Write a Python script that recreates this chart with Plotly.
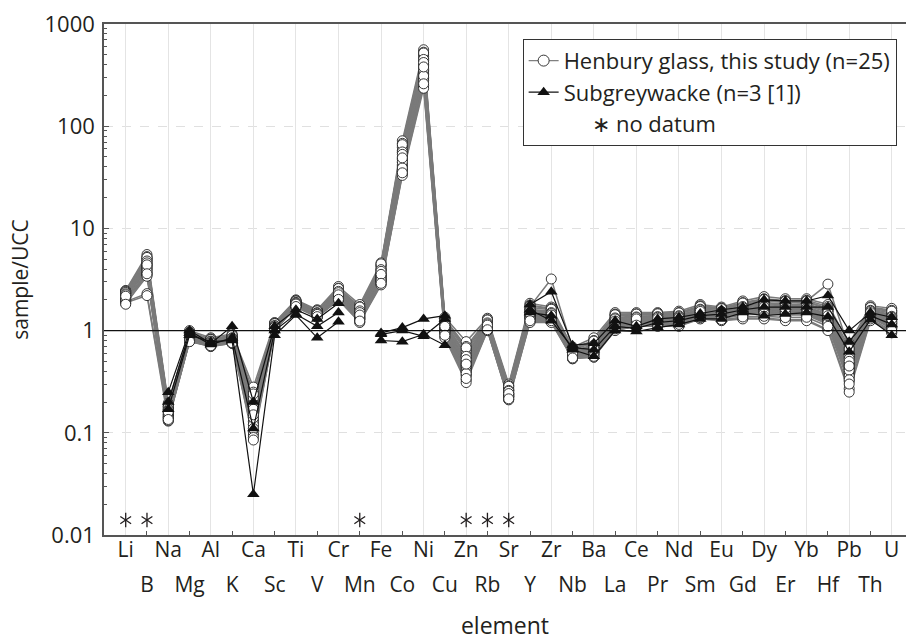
import plotly.graph_objects as go

# Elements in plotting order (normalised to upper continental crust, UCC)
elements = ["Li", "B", "Na", "Mg", "Al", "K", "Ca", "Sc", "Ti", "V", "Cr", "Mn",
            "Fe", "Co", "Ni", "Cu", "Zn", "Rb", "Sr", "Y", "Zr", "Nb", "Ba", "La",
            "Ce", "Pr", "Nd", "Sm", "Eu", "Gd", "Dy", "Er", "Yb", "Hf", "Pb", "Th", "U"]

# Henbury impact glass, 25 analyses: sample/UCC per element
hb_li = [2.47, 2.31, 2.44, 2.38, 2.26, 2.41, 2.19, 2.33, 2.12, 2.36, 2.05, 2.22, 2.29, 1.98, 2.15, 2.08, 1.92, 2.24, 2.01, 1.87, 2.10, 1.95, 1.84, 2.17, 1.81]
hb_b = [5.55, 4.9, 5.3, 5.1, 4.4, 5.0, 4.1, 4.7, 3.9, 5.2, 3.6, 4.3, 4.8, 3.5, 4.5, 4.0, 2.3, 4.6, 3.7, 2.2, 4.2, 3.8, 3.4, 4.4, 3.6]
hb_na = [0.195, 0.17, 0.19, 0.18, 0.16, 0.185, 0.15, 0.175, 0.145, 0.18, 0.14, 0.165, 0.17, 0.135, 0.16, 0.15, 0.14, 0.165, 0.145, 0.13, 0.155, 0.14, 0.132, 0.16, 0.135]
hb_mg = [1.0, 0.9, 0.97, 0.95, 0.87, 0.94, 0.84, 0.92, 0.82, 0.96, 0.8, 0.88, 0.91, 0.79, 0.86, 0.83, 0.81, 0.89, 0.82, 0.78, 0.85, 0.8, 0.79, 0.87, 0.78]
hb_al = [0.85, 0.79, 0.83, 0.82, 0.77, 0.81, 0.75, 0.8, 0.74, 0.82, 0.72, 0.77, 0.79, 0.71, 0.76, 0.74, 0.72, 0.78, 0.73, 0.7, 0.75, 0.72, 0.7, 0.76, 0.71]
hb_k = [0.93, 0.85, 0.9, 0.89, 0.83, 0.88, 0.8, 0.86, 0.79, 0.9, 0.77, 0.83, 0.85, 0.76, 0.82, 0.79, 0.77, 0.84, 0.78, 0.75, 0.81, 0.77, 0.75, 0.82, 0.76]
hb_ca = [0.28, 0.2, 0.25, 0.23, 0.17, 0.22, 0.14, 0.19, 0.13, 0.24, 0.12, 0.16, 0.18, 0.11, 0.15, 0.13, 0.1, 0.17, 0.12, 0.095, 0.14, 0.11, 0.09, 0.15, 0.085]
hb_sc = [1.2, 1.12, 1.18, 1.16, 1.1, 1.15, 1.07, 1.13, 1.05, 1.17, 1.04, 1.09, 1.12, 1.02, 1.08, 1.06, 1.03, 1.11, 1.04, 1.0, 1.07, 1.03, 1.0, 1.08, 1.01]
hb_ti = [2.0, 1.88, 1.96, 1.94, 1.85, 1.92, 1.81, 1.9, 1.79, 1.95, 1.76, 1.84, 1.89, 1.74, 1.83, 1.78, 1.75, 1.86, 1.77, 1.71, 1.8, 1.75, 1.7, 1.82, 1.72]
hb_v = [1.6, 1.5, 1.57, 1.55, 1.47, 1.54, 1.44, 1.51, 1.42, 1.56, 1.4, 1.46, 1.5, 1.38, 1.45, 1.41, 1.39, 1.48, 1.4, 1.36, 1.43, 1.39, 1.35, 1.44, 1.37]
hb_cr = [2.7, 2.4, 2.6, 2.55, 2.3, 2.5, 2.2, 2.45, 2.15, 2.58, 2.1, 2.28, 2.42, 2.05, 2.25, 2.17, 2.08, 2.35, 2.12, 2.0, 2.2, 2.06, 2.0, 2.24, 2.02]
hb_mn = [1.8, 1.55, 1.72, 1.66, 1.48, 1.62, 1.4, 1.58, 1.36, 1.7, 1.32, 1.45, 1.56, 1.28, 1.43, 1.35, 1.3, 1.5, 1.33, 1.22, 1.38, 1.29, 1.2, 1.42, 1.24]
hb_fe = [4.6, 3.9, 4.4, 4.3, 3.7, 4.2, 3.4, 4.0, 3.3, 4.5, 3.1, 3.6, 3.95, 3.0, 3.5, 3.25, 3.05, 3.8, 3.2, 2.85, 3.45, 3.1, 2.8, 3.55, 2.9]
hb_co = [72, 55, 68, 64, 50, 62, 44, 58, 41, 66, 38, 48, 56, 36, 47, 42, 37, 53, 40, 34, 45, 39, 33, 49, 35]
hb_ni = [560, 440, 530, 500, 400, 480, 350, 460, 330, 520, 300, 390, 450, 280, 370, 340, 290, 420, 320, 250, 360, 310, 235, 380, 260]
hb_cu = [1.35, 1.18, 1.3, 1.27, 1.12, 1.25, 1.05, 1.2, 1.02, 1.28, 0.98, 1.1, 1.18, 0.95, 1.08, 1.03, 0.93, 1.15, 1.0, 0.87, 1.06, 0.97, 0.85, 1.1, 0.9]
hb_zn = [0.78, 0.55, 0.7, 0.65, 0.5, 0.62, 0.44, 0.58, 0.42, 0.68, 0.39, 0.48, 0.56, 0.37, 0.46, 0.41, 0.36, 0.52, 0.4, 0.33, 0.45, 0.38, 0.31, 0.47, 0.34]
hb_rb = [1.32, 1.18, 1.28, 1.25, 1.14, 1.22, 1.1, 1.2, 1.08, 1.27, 1.06, 1.12, 1.19, 1.04, 1.11, 1.07, 1.03, 1.16, 1.05, 1.0, 1.09, 1.04, 1.0, 1.13, 1.02]
hb_sr = [0.3, 0.26, 0.29, 0.28, 0.25, 0.27, 0.24, 0.265, 0.235, 0.285, 0.23, 0.245, 0.26, 0.225, 0.24, 0.23, 0.22, 0.255, 0.228, 0.212, 0.238, 0.224, 0.21, 0.242, 0.215]
hb_y = [1.85, 1.6, 1.78, 1.72, 1.52, 1.68, 1.45, 1.62, 1.4, 1.75, 1.36, 1.5, 1.6, 1.32, 1.47, 1.38, 1.3, 1.55, 1.35, 1.22, 1.42, 1.3, 1.2, 1.48, 1.25]
hb_zr = [1.7, 1.5, 1.65, 3.2, 1.45, 1.6, 1.4, 1.55, 1.36, 1.62, 1.32, 1.43, 1.5, 1.3, 1.4, 1.35, 1.27, 1.47, 1.33, 1.22, 1.38, 1.29, 1.2, 1.42, 1.25]
hb_nb = [0.69, 0.62, 0.67, 0.66, 0.6, 0.65, 0.58, 0.63, 0.57, 0.66, 0.56, 0.59, 0.62, 0.55, 0.59, 0.57, 0.55, 0.61, 0.56, 0.53, 0.58, 0.55, 0.53, 0.6, 0.54]
hb_ba = [0.85, 0.72, 0.8, 0.78, 0.68, 0.76, 0.64, 0.73, 0.62, 0.79, 0.6, 0.67, 0.72, 0.58, 0.66, 0.62, 0.58, 0.7, 0.6, 0.55, 0.65, 0.59, 0.55, 0.67, 0.56]
hb_la = [1.5, 1.32, 1.45, 1.42, 1.27, 1.4, 1.2, 1.35, 1.17, 1.43, 1.12, 1.25, 1.33, 1.09, 1.22, 1.15, 1.06, 1.3, 1.13, 1.01, 1.2, 1.1, 1.0, 1.24, 1.04]
hb_ce = [1.5, 1.36, 1.46, 1.44, 1.32, 1.42, 1.27, 1.38, 1.24, 1.45, 1.21, 1.3, 1.36, 1.18, 1.28, 1.23, 1.16, 1.34, 1.2, 1.1, 1.26, 1.19, 1.1, 1.3, 1.13]
hb_pr = [1.5, 1.37, 1.47, 1.44, 1.33, 1.42, 1.28, 1.39, 1.25, 1.46, 1.22, 1.31, 1.37, 1.19, 1.29, 1.24, 1.17, 1.35, 1.21, 1.11, 1.27, 1.2, 1.1, 1.31, 1.14]
hb_nd = [1.55, 1.4, 1.5, 1.47, 1.35, 1.45, 1.3, 1.41, 1.27, 1.49, 1.24, 1.33, 1.4, 1.21, 1.31, 1.26, 1.18, 1.37, 1.23, 1.12, 1.29, 1.21, 1.1, 1.33, 1.15]
hb_sm = [1.8, 1.62, 1.75, 1.71, 1.57, 1.68, 1.5, 1.64, 1.47, 1.72, 1.43, 1.55, 1.62, 1.4, 1.52, 1.46, 1.37, 1.59, 1.42, 1.31, 1.49, 1.4, 1.3, 1.54, 1.34]
hb_eu = [1.7, 1.54, 1.66, 1.62, 1.49, 1.6, 1.43, 1.56, 1.4, 1.64, 1.37, 1.47, 1.54, 1.34, 1.45, 1.39, 1.31, 1.51, 1.36, 1.26, 1.42, 1.34, 1.25, 1.46, 1.28]
hb_gd = [1.95, 1.72, 1.88, 1.84, 1.65, 1.8, 1.57, 1.75, 1.53, 1.86, 1.49, 1.62, 1.72, 1.45, 1.6, 1.52, 1.42, 1.68, 1.47, 1.32, 1.56, 1.44, 1.3, 1.61, 1.36]
hb_dy = [2.15, 1.85, 2.05, 2.0, 1.76, 1.95, 1.66, 1.88, 1.6, 2.02, 1.55, 1.72, 1.85, 1.5, 1.69, 1.58, 1.46, 1.8, 1.53, 1.33, 1.64, 1.49, 1.3, 1.7, 1.38]
hb_er = [2.05, 1.78, 1.97, 1.92, 1.7, 1.88, 1.6, 1.81, 1.55, 1.94, 1.5, 1.66, 1.78, 1.45, 1.63, 1.53, 1.42, 1.74, 1.48, 1.28, 1.58, 1.45, 1.25, 1.64, 1.34]
hb_yb = [2.05, 1.8, 1.98, 1.93, 1.71, 1.9, 1.62, 1.83, 1.56, 1.95, 1.51, 1.68, 1.8, 1.46, 1.64, 1.54, 1.42, 1.76, 1.49, 1.28, 1.6, 1.45, 1.25, 1.66, 1.35]
hb_hf = [1.8, 1.55, 1.72, 1.66, 1.45, 1.62, 1.35, 1.58, 1.3, 2.85, 1.25, 1.42, 1.55, 1.2, 1.38, 1.28, 1.15, 1.5, 1.22, 1.02, 1.33, 1.18, 1.0, 1.4, 1.1]
hb_pb = [0.75, 0.55, 0.68, 0.64, 0.48, 0.6, 0.42, 0.57, 0.4, 0.66, 0.37, 0.46, 0.53, 0.34, 0.44, 0.39, 0.32, 0.5, 0.36, 0.27, 0.41, 0.33, 0.25, 0.45, 0.3]
hb_th = [1.75, 1.58, 1.7, 1.66, 1.53, 1.63, 1.47, 1.6, 1.44, 1.68, 1.41, 1.51, 1.58, 1.38, 1.49, 1.43, 1.35, 1.55, 1.4, 1.27, 1.46, 1.37, 1.25, 1.5, 1.3]
hb_u = [1.65, 1.4, 1.58, 1.52, 1.32, 1.48, 1.22, 1.43, 1.18, 1.55, 1.13, 1.28, 1.38, 1.08, 1.25, 1.16, 1.04, 1.35, 1.1, 0.97, 1.2, 1.06, 0.95, 1.3, 1.0]

henbury_by_element = [hb_li, hb_b, hb_na, hb_mg, hb_al, hb_k, hb_ca, hb_sc, hb_ti, hb_v,
                      hb_cr, hb_mn, hb_fe, hb_co, hb_ni, hb_cu, hb_zn, hb_rb, hb_sr, hb_y,
                      hb_zr, hb_nb, hb_ba, hb_la, hb_ce, hb_pr, hb_nd, hb_sm, hb_eu, hb_gd,
                      hb_dy, hb_er, hb_yb, hb_hf, hb_pb, hb_th, hb_u]

# Subgreywacke, 3 analyses [1]; None = element not reported
subgreywacke_1 = [None, None, 0.25, 1.0, 0.75, 1.1, 0.2, 1.1, 1.6, 1.3, 1.85, None, 0.95, 1.07, 1.3, 1.4, None, None, None,
                  1.8, 2.4, 0.72, 0.75, 1.25, 1.1, 1.3, 1.35, 1.47, 1.6, 1.7, 2.0, 1.95, 1.95, 2.2, 1.0, 1.5, 1.35]
subgreywacke_2 = [None, None, 0.2, 0.95, 0.73, 0.85, 0.11, 1.0, 1.45, 1.1, 1.5, None, 0.8, 0.78, 0.92, 0.72, None, None, None,
                  1.5, 1.4, 0.65, 0.56, 1.0, 0.98, 1.07, 1.15, 1.3, 1.3, 1.5, 1.4, 1.45, 1.5, 1.37, 0.62, 1.28, 0.9]
subgreywacke_3 = [None, None, 0.17, 0.9, 0.78, 0.8, 0.025, 0.9, 1.42, 0.85, 1.22, None, 0.92, 1.0, 0.88, 1.3, None, None, None,
                  1.6, 1.25, 0.68, 0.65, 1.1, 1.05, 1.2, 1.25, 1.4, 1.45, 1.6, 1.7, 1.7, 1.7, 1.7, 0.78, 1.4, 1.15]
subgreywacke = [subgreywacke_1, subgreywacke_2, subgreywacke_3]

# Level at which "no datum" flags are drawn
no_datum_level = 0.014

y_tick_values = [0.01, 0.1, 1, 10, 100, 1000]
y_tick_labels = ["0.01", "0.1", "1", "10", "100", "1000"]

FONT = "Open Sans"
INK = "#231f20"
AXIS = "#555555"

x_idx = list(range(len(elements)))
top_idx = x_idx[0::2]
bottom_idx = x_idx[1::2]

fig = go.Figure()

# Henbury: all connecting lines first, then all circles on top
henbury_samples = list(zip(*henbury_by_element))
line_x, line_y, pt_x, pt_y = [], [], [], []
for sample in henbury_samples:
    line_x += x_idx + [None]
    line_y += list(sample) + [None]
    pt_x += x_idx
    pt_y += list(sample)

fig.add_trace(go.Scatter(x=line_x, y=line_y, mode="lines", showlegend=False, hoverinfo="skip",
                         line=dict(color="#7a7a7a", width=1.5)))
fig.add_trace(go.Scatter(x=pt_x, y=pt_y, mode="markers", showlegend=False,
                         marker=dict(symbol="circle", size=10, color="white",
                                     line=dict(color="#222222", width=0.9))))
fig.add_trace(go.Scatter(x=[None], y=[None], mode="lines+markers",
                         name="Henbury glass, this study (n=25)",
                         line=dict(color="#808080", width=1.2),
                         marker=dict(symbol="circle", size=11, color="white",
                                     line=dict(color="#222222", width=0.9))))

for i, sample in enumerate(subgreywacke):
    fig.add_trace(go.Scatter(x=x_idx, y=sample, mode="lines+markers",
                             name="Subgreywacke (n=3 [1])", legendgroup="sg",
                             showlegend=(i == 0), connectgaps=False,
                             line=dict(color="#111111", width=1.2),
                             marker=dict(symbol="triangle-up", size=11, color="#111111")))

# Asterisks where the subgreywacke reference has no value
missing_idx = [i for i in x_idx if all(s[i] is None for s in subgreywacke)]
for sym in ("y-up-open", "y-down-open"):
    fig.add_trace(go.Scatter(x=missing_idx, y=[no_datum_level] * len(missing_idx),
                             mode="markers", showlegend=False, xaxis="x2", hoverinfo="skip",
                             marker=dict(symbol=sym, size=9, color=INK,
                                         line=dict(color=INK, width=1.3))))
fig.add_trace(go.Scatter(x=[None], y=[None], mode="markers",
                         name="\u00a0\u00a0\u00a0\u00a0\u00a0\u2217 no datum",
                         marker=dict(size=1, color="rgba(0,0,0,0)")))

# Reference line at sample/UCC = 1
fig.add_shape(type="line", xref="paper", x0=0, x1=1, yref="y", y0=1, y1=1,
              line=dict(color="#111111", width=1.2))

fig.update_layout(
    width=906, height=641,
    margin=dict(l=104, r=0, t=24, b=106),
    plot_bgcolor="white", paper_bgcolor="white",
    font=dict(family=FONT, size=22, color=INK),
    xaxis=dict(range=[-1.02, 36.67], tickmode="array", tickvals=bottom_idx,
               ticktext=[elements[i] for i in bottom_idx],
               ticks="inside", ticklen=4, tickcolor=AXIS, tickwidth=1,
               showline=True, linecolor=AXIS, linewidth=1.5, mirror=True,
               showgrid=False, zeroline=False, ticklabelstandoff=30,
               tickfont=dict(size=21),
               title=dict(text="element", font=dict(size=23), standoff=22)),
    xaxis2=dict(overlaying="x", matches="x", anchor="y", side="bottom",
                tickmode="array", tickvals=top_idx,
                ticktext=[elements[i] for i in top_idx],
                ticks="", showgrid=True, gridcolor="#e4e4e4", gridwidth=1,
                showline=False, zeroline=False, tickfont=dict(size=21)),
    yaxis=dict(type="log", range=[-2, 3], tickmode="array",
               tickvals=y_tick_values, ticktext=y_tick_labels,
               ticks="inside", ticklen=5, tickcolor=AXIS,
               showline=True, linecolor=AXIS, linewidth=1.5,
               showgrid=True, gridcolor="#e0e0e0", griddash="dash", zeroline=False,
               minor=dict(ticks="inside", ticklen=3, tickcolor=AXIS, dtick="D1", showgrid=False),
               tickfont=dict(size=22), ticklabelstandoff=3,
               title=dict(text="sample/UCC", font=dict(size=21), standoff=10)),
    legend=dict(x=0.522, y=0.971, xanchor="left", yanchor="top",
                bgcolor="white", bordercolor="#333333", borderwidth=1,
                font=dict(size=22), itemwidth=30, tracegroupgap=0),
)

fig.write_html("out.html")
